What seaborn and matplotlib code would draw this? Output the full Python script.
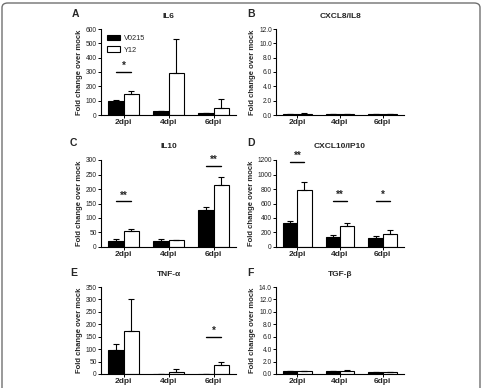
import numpy as np
import pandas as pd
import matplotlib
matplotlib.use("Agg")
import matplotlib.pyplot as plt
import seaborn as sns
from matplotlib.patches import FancyBboxPatch, Patch

# --------------------------
# Datos
# --------------------------
dias = ["2dpi", "4dpi", "6dpi"]
cepas = ["V0215", "Y12"]

il6_v0215 = [95, 28, 15]
il6_v0215_err = [8, 3, 2]
il6_y12 = [145, 290, 50]
il6_y12_err = [25, 240, 65]

il8_v0215 = [0.15, 0.15, 0.10]
il8_v0215_err = [0.03, 0.03, 0.02]
il8_y12 = [0.20, 0.12, 0.08]
il8_y12_err = [0.03, 0.03, 0.02]

il10_v0215 = [22, 20, 128]
il10_v0215_err = [5, 7, 10]
il10_y12 = [55, 23, 215]
il10_y12_err = [7, 2, 27]

ip10_v0215 = [335, 140, 130]
ip10_v0215_err = [25, 30, 15]
ip10_y12 = [780, 290, 185]
ip10_y12_err = [120, 35, 55]

tnf_v0215 = [97, 0, 0]
tnf_v0215_err = [23, 0, 0]
tnf_y12 = [172, 10, 35]
tnf_y12_err = [128, 10, 12]

tgf_v0215 = [0.45, 0.45, 0.25]
tgf_v0215_err = [0.04, 0.04, 0.03]
tgf_y12 = [0.50, 0.55, 0.25]
tgf_y12_err = [0.04, 0.06, 0.03]

# (letra, título, valores V0215, err, valores Y12, err, ymax, paso, formato, significancia)
paneles = [
    ("A", "IL6", il6_v0215, il6_v0215_err, il6_y12, il6_y12_err, 600, 100, "{:.0f}",
     [(0, 300, "*")]),
    ("B", "CXCL8/IL8", il8_v0215, il8_v0215_err, il8_y12, il8_y12_err, 12, 2, "{:.1f}", []),
    ("C", "IL10", il10_v0215, il10_v0215_err, il10_y12, il10_y12_err, 300, 50, "{:.0f}",
     [(0, 157, "**"), (2, 280, "**")]),
    ("D", "CXCL10/IP10", ip10_v0215, ip10_v0215_err, ip10_y12, ip10_y12_err, 1200, 200, "{:.0f}",
     [(0, 1175, "**"), (1, 640, "**"), (2, 640, "*")]),
    ("E", "TNF-α", tnf_v0215, tnf_v0215_err, tnf_y12, tnf_y12_err, 350, 50, "{:.0f}",
     [(2, 150, "*")]),
    ("F", "TGF-β", tgf_v0215, tgf_v0215_err, tgf_y12, tgf_y12_err, 14, 2, "{:.1f}", []),
]

W, H = 484, 388
# posiciones de los ejes en píxeles: (izq, der, arriba, abajo)
cols = [(101, 236), (276, 404)]
filas = [(29, 115), (160, 247), (287, 374)]
letra_pos = [(72, 14), (247, 14), (70, 143), (247, 143), (70, 273), (247, 273)]
titulo_y = [16, 16, 146, 146, 274, 274]

sns.set_style("white")
plt.rcParams["font.family"] = ["Liberation Sans", "DejaVu Sans"]

fig = plt.figure(figsize=(W / 100, H / 100), dpi=100)

# marco redondeado de la figura
marco = FancyBboxPatch((2 / W, -20 / H), 478 / W, 405 / H,
                       boxstyle="round,pad=0,rounding_size=0.012",
                       transform=fig.transFigure, facecolor="none",
                       edgecolor="#707070", linewidth=1.0)
fig.patches.append(marco)

paleta = {"V0215": "black", "Y12": "white"}

for i, (letra, titulo, v, ve, y, ye, ymax, paso, fmt, sig) in enumerate(paneles):
    x0, x1 = cols[i % 2]
    t0, t1 = filas[i // 2]
    ax = fig.add_axes([x0 / W, 1 - t1 / H, (x1 - x0) / W, (t1 - t0) / H])

    df = pd.DataFrame({
        "dia": dias * 2,
        "cepa": [cepas[0]] * 3 + [cepas[1]] * 3,
        "valor": v + y,
    })
    sns.barplot(data=df, x="dia", y="valor", hue="cepa", order=dias, hue_order=cepas,
                palette=paleta, edgecolor="black", linewidth=0.8, width=0.67,
                errorbar=None, legend=False, ax=ax)

    # barras de error (solo hacia arriba, estilo GraphPad)
    for cont, vals, errs in zip(ax.containers, [v, y], [ve, ye]):
        xs = [b.get_x() + b.get_width() / 2 for b in cont]
        ax.errorbar(xs, vals, yerr=[np.zeros(3), errs], fmt="none", ecolor="black",
                    elinewidth=0.8, capsize=2.5, capthick=0.8, zorder=1)

    # marcas de significancia
    c0 = [b.get_x() + b.get_width() / 2 for b in ax.containers[0]]
    c1 = [b.get_x() + b.get_width() / 2 for b in ax.containers[1]]
    for k, nivel, estrellas in sig:
        ax.plot([c0[k], c1[k]], [nivel, nivel], color="black", lw=1.0)
        ax.text((c0[k] + c1[k]) / 2, nivel + ymax * 0.01, estrellas, ha="center",
                va="bottom", fontsize=7, fontweight="bold")

    ax.set_xlim(-0.5, 2.5)
    ax.set_ylim(0, ymax)
    ticks = np.arange(0, ymax + paso / 2, paso)
    ax.set_yticks(ticks)
    ax.set_yticklabels([fmt.format(t) for t in ticks], fontsize=4.8, color="#222222")
    ax.set_xticks(range(3))
    ax.set_xticklabels(dias, fontsize=6, fontweight="bold")
    ax.set_xlabel("")
    ax.set_ylabel("Fold change over mock", fontsize=5.5, fontweight="bold", labelpad=2)
    ax.tick_params(axis="both", which="both", direction="out", length=2, width=0.7,
                   pad=1, color="black", bottom=True, left=True)
    sns.despine(ax=ax)
    for s in ["left", "bottom"]:
        ax.spines[s].set_linewidth(0.8)
        ax.spines[s].set_color("black")

    cx = (x0 + x1) / 2
    fig.text(cx / W, 1 - titulo_y[i] / H, titulo, ha="center", va="center",
             fontsize=6, fontweight="bold")
    lx, ly = letra_pos[i]
    fig.text(lx / W, 1 - ly / H, letra, ha="left", va="center",
             fontsize=7.5, fontweight="bold")

    if letra == "A":
        manejadores = [Patch(facecolor=paleta[c], edgecolor="black", linewidth=0.8)
                       for c in cepas]
        ax.legend(manejadores, cepas, loc="upper left", bbox_to_anchor=(0.02, 0.97),
                  frameon=False, fontsize=5.3, handlelength=1.8, handleheight=0.8,
                  labelspacing=0.6, handletextpad=0.6, borderaxespad=0)

fig.savefig("out.png", dpi=100)
